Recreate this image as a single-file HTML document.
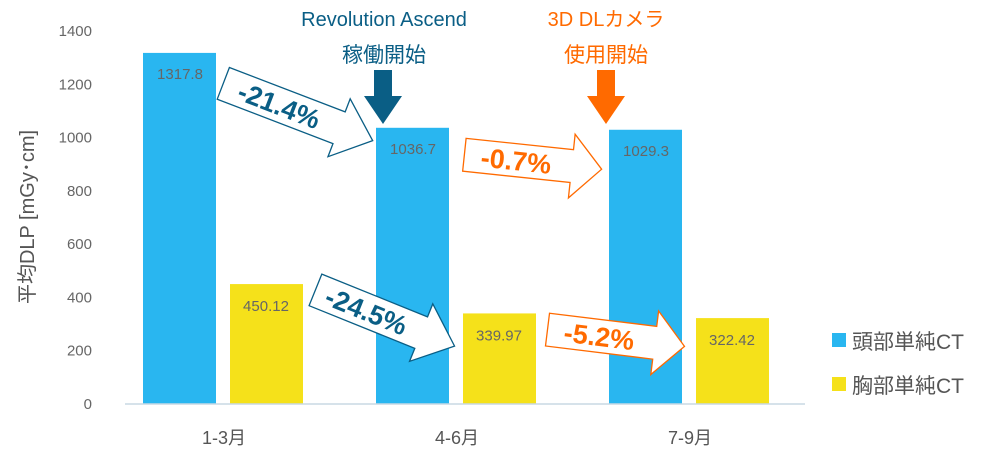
<!DOCTYPE html>
<html><head><meta charset="utf-8"><style>
html,body{margin:0;padding:0;background:#fff;width:1000px;height:458px;overflow:hidden}
text{font-family:"Liberation Sans","Noto Sans CJK JP",sans-serif}
</style></head><body>
<svg id="chart" width="1000" height="458" viewBox="0 0 1000 458" xmlns="http://www.w3.org/2000/svg">
<g id="grid"></g><g id="bars"></g>
<line x1="125" y1="404" x2="805" y2="404" stroke="#c8d8e4" stroke-width="1.5"/>
<text transform="translate(34,217) rotate(-90)" text-anchor="middle" font-size="20" fill="#555">平均DLP [mGy･cm]</text>
<g id="anno"></g>
<text x="384" y="26" text-anchor="middle" font-size="20" fill="#0a5e85">Revolution Ascend</text>
<text x="384" y="62" text-anchor="middle" font-size="21" fill="#0a5e85">稼働開始</text>
<polygon points="374,70 392,70 392,96 402,96 383,124 364,96 374,96" fill="#0a5e85"/>
<text x="606" y="26" text-anchor="middle" font-size="20" fill="#ff6a00">3D DLカメラ</text>
<text x="606" y="62" text-anchor="middle" font-size="21" fill="#ff6a00">使用開始</text>
<polygon points="597,70 615,70 615,96 625,96 606,124 587,96 597,96" fill="#ff6a00"/>
<rect x="832" y="333" width="14" height="14" fill="#29b6f0"/>
<text x="852" y="349" font-size="21" fill="#555">頭部単純CT</text>
<rect x="832" y="377" width="14" height="14" fill="#f5e11a"/>
<text x="852" y="393" font-size="21" fill="#555">胸部単純CT</text>
</svg>
<script>
const categories=["1-3月","4-6月","7-9月"];
const headValues=[1317.8,1036.7,1029.3];
const chestValues=[450.12,339.97,322.42];
const headLabels=["1317.8","1036.7","1029.3"];
const chestLabels=["450.12","339.97","322.42"];
const yTicks=[0,200,400,600,800,1000,1200,1400];
const NS="http://www.w3.org/2000/svg";
function y(v){return 404-v*(373/1400);}
function groupX(i){return 222+i*233;}
function mk(tag,attrs,parent){const e=document.createElementNS(NS,tag);for(const k in attrs)e.setAttribute(k,attrs[k]);parent.appendChild(e);return e;}
const grid=document.getElementById('grid'),bars=document.getElementById('bars'),anno=document.getElementById('anno');
yTicks.forEach(t=>{const e=mk('text',{x:92,y:y(t)+5,'text-anchor':'end','font-size':15,fill:'#666'},grid);e.textContent=t;

});
categories.forEach((c,i)=>{
 const cx=groupX(i);
 const b=mk('rect',{x:cx-79,y:y(headValues[i]),width:73,height:404-y(headValues[i]),fill:'#29b6f0'},bars);
 
 
 const t=mk('text',{x:cx-42,y:y(headValues[i])+26,'text-anchor':'middle','font-size':15,fill:'#666'},bars);t.textContent=headLabels[i];
 
 
 const b2=mk('rect',{x:cx+8,y:y(chestValues[i]),width:73,height:404-y(chestValues[i]),fill:'#f5e11a'},bars);
 
 
 const t2=mk('text',{x:cx+44,y:y(chestValues[i])+27,'text-anchor':'middle','font-size':15,fill:'#666'},bars);t2.textContent=chestLabels[i];
 
 
 const cl=mk('text',{x:cx+2,y:444,'text-anchor':'middle','font-size':18,fill:'#555'},bars);cl.textContent=c;
 
 
});
function arrow(cx,cy,ang,len,bh,hh,hl,color,label,name){
 const g=mk('g',{transform:`translate(${cx},${cy}) rotate(${ang})`},anno);
 
 
 const L=len/2,bx=L-hl;
 mk('polygon',{points:`${-L},${-bh/2} ${bx},${-bh/2} ${bx},${-hh/2} ${L},0 ${bx},${hh/2} ${bx},${bh/2} ${-L},${bh/2}`,fill:'#fff',stroke:color,'stroke-width':1.3},g);
 const t=mk('text',{x:-L+(len-hl)/2-2,y:10,'text-anchor':'middle','font-size':27,'font-weight':'bold',fill:color},g);t.textContent=label;
}
arrow(298,112,21,160,34,62,36,'#0a5e85','-21.4%','arrow-head-q1-q2');
arrow(385,318,22,150,34,62,36,'#0a5e85','-24.5%','arrow-chest-q1-q2');
arrow(533,162,6,138,33,64,30,'#ff6a00','-0.7%','arrow-head-q2-q3');
arrow(616,338,7,138,33,64,30,'#ff6a00','-5.2%','arrow-chest-q2-q3');
</script>
</body></html>
